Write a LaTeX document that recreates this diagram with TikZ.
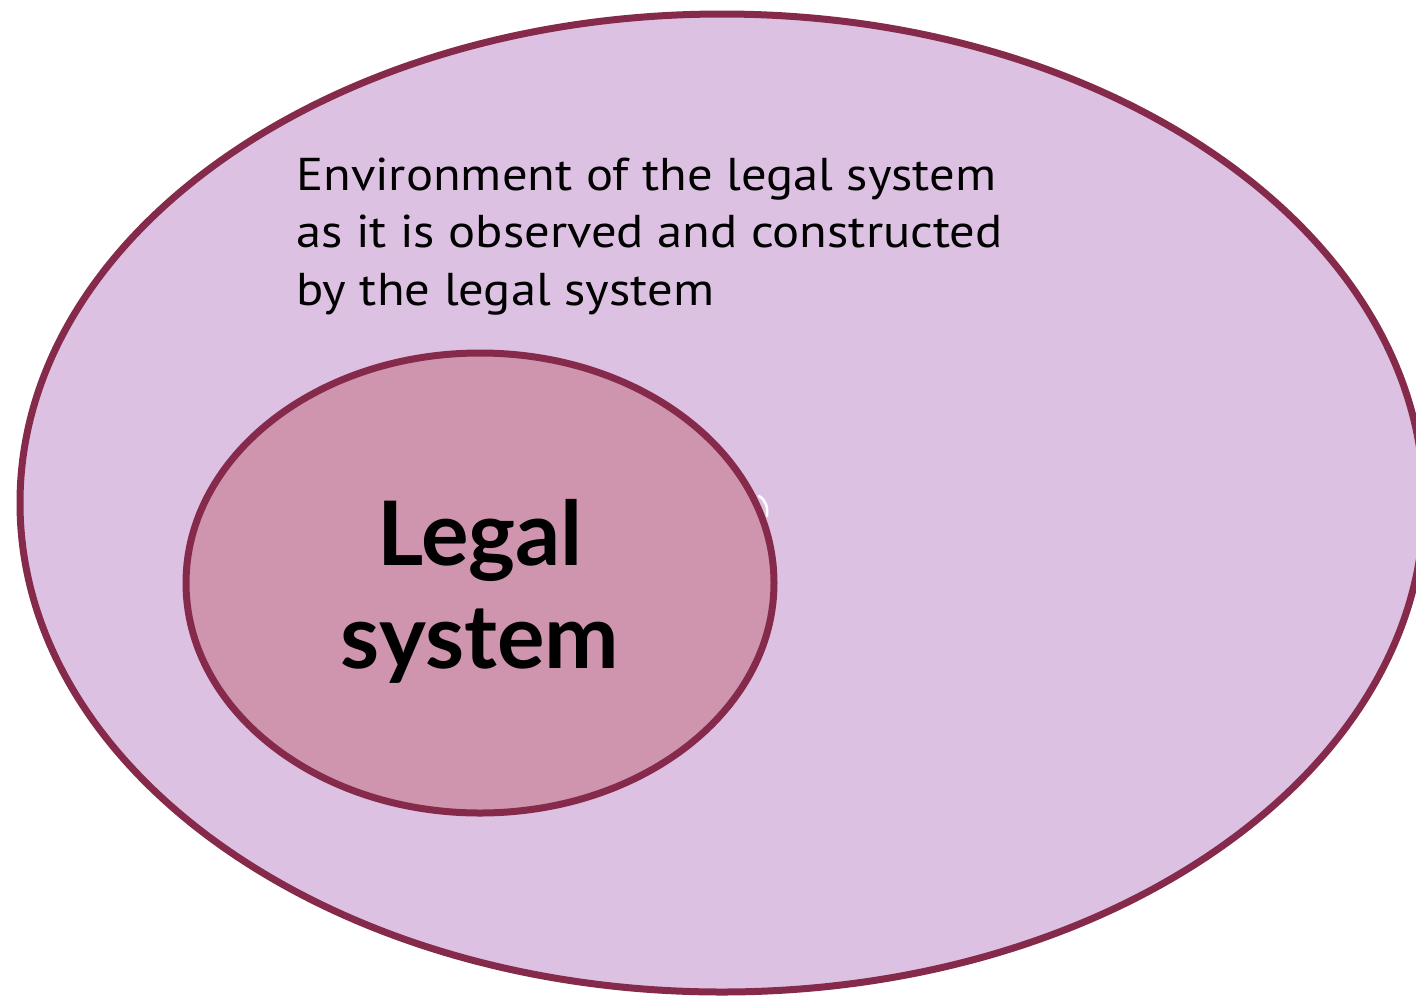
\documentclass[tikz,border=0pt]{standalone}
\usepackage{fontspec}
\setmainfont{PT Sans}
\newfontfamily\envfont[FakeStretch=1.1]{PT Sans}
\newfontfamily\boldfont{Lato}
\definecolor{outerfill}{HTML}{DDC1E2}
\definecolor{innerfill}{HTML}{CF94AE}
\definecolor{rim}{HTML}{862A4B}
\begin{document}
\begin{tikzpicture}[x=1pt,y=-1pt,
  rimline/.style={draw=rim,line width=7pt}]
\useasboundingbox (0,0) rectangle (1416,997);
\begin{scope}
\clip (0,0) rectangle (1416,997);
\path[rimline,fill=outerfill] (722,503) ellipse [x radius=702, y radius=489];
\end{scope}
\path[rimline,fill=innerfill] (480,583) ellipse [x radius=294, y radius=230];
\draw[white,line width=2.5pt,line cap=round] (759,496) .. controls (766,500) and (768,508) .. (767,516);
\node[anchor=base west,align=left,inner sep=0pt,font=\envfont\fontsize{46}{57.5}\selectfont] (env) at (296,305)
  {Environment of the legal system\\as it is observed and constructed\\by the legal system};
\node[anchor=base,align=center,inner sep=0pt,font=\boldfont\bfseries\fontsize{89}{103}\selectfont] (legal) at (480,668)
  {Legal\\system};
\end{tikzpicture}
\end{document}
